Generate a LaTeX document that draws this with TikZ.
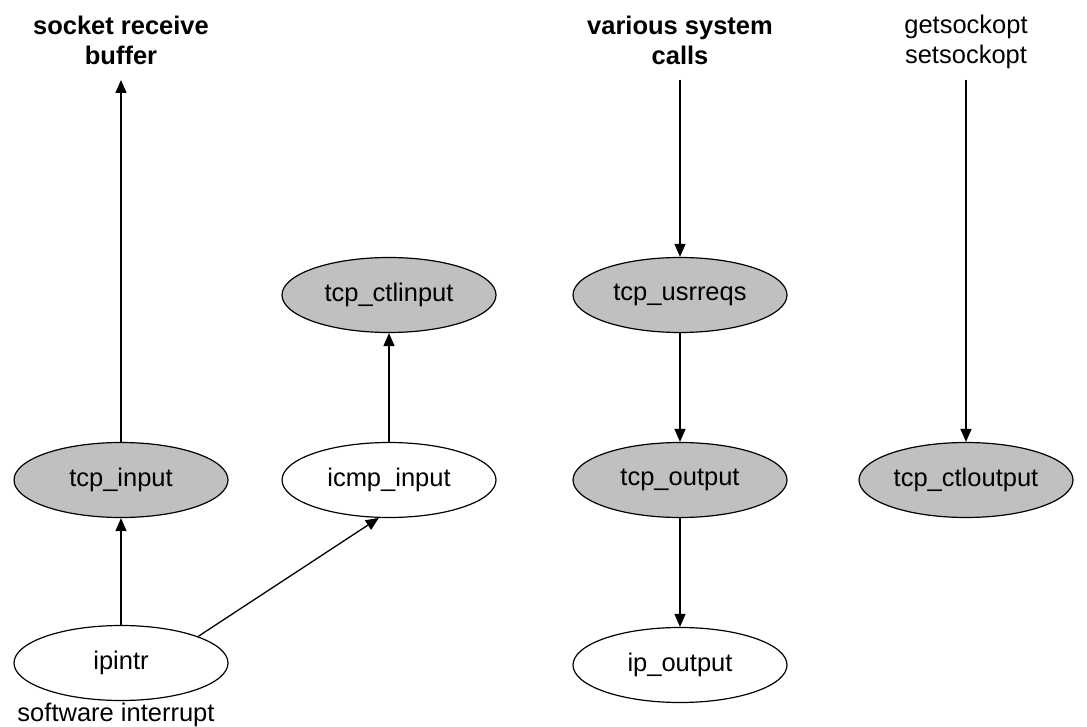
\documentclass[tikz,border=0pt]{standalone}
\usepackage{fontspec}
\setmainfont{Liberation Sans}
\usetikzlibrary{arrows.meta,shapes.geometric}
\definecolor{procgray}{RGB}{192,192,192}
\tikzset{
  proc/.style={ellipse, draw=black, line width=1.2pt, minimum width=214pt,
    minimum height=75pt, inner sep=0pt, font=\fontsize{25.5}{30}\selectfont},
  kernproc/.style={proc, fill=procgray},
  extproc/.style={proc, fill=white},
  toplabel/.style={align=center, inner sep=0pt, anchor=base,
    font=\fontsize{25.5}{30}\selectfont},
  flow/.style={draw=black, line width=1.3pt,
    -{Triangle[length=13pt,width=11pt]}},
}
\begin{document}
\begin{tikzpicture}[x=1pt,y=-1pt]
\useasboundingbox (0,0) rectangle (1087,727);

% labels at the top of the three columns (anchored on the last baseline)
\node[toplabel, font=\fontsize{25.5}{30}\selectfont\bfseries] (sockbuf) at (121,65) {socket receive\\buffer};
\node[toplabel, font=\fontsize{25.5}{30}\selectfont\bfseries] (syscalls) at (680,65) {various system\\calls};
\node[toplabel] (sockopt) at (966,64) {getsockopt\\setsockopt};
\coordinate (sockbufin) at (121,80);
\coordinate (syscallsout) at (680,80);
\coordinate (sockoptout) at (966,80);

% processing routines
\node[kernproc] (ctlinput) at (389,295) {tcp\_ctlinput};
\node[kernproc] (usrreqs) at (680,295) {tcp\_usrreqs};
\node[kernproc] (tcpinput) at (121,480) {tcp\_input};
\node[extproc] (icmpinput) at (389,480) {icmp\_input};
\node[kernproc] (tcpoutput) at (680,480) {tcp\_output};
\node[kernproc] (ctloutput) at (966,480) {tcp\_ctloutput};
\node[extproc] (ipintr) at (121,663) {ipintr};
\node[extproc] (ipoutput) at (680,665) {ip\_output};
\node[toplabel] (swint) at (116,721) {software interrupt};

% control flow
\draw[flow] (tcpinput) -- (sockbufin);
\draw[flow] (ipintr) -- (tcpinput);
\draw[flow] (ipintr.19) -- (icmpinput.255);
\draw[flow] (icmpinput) -- (ctlinput);
\draw[flow] (syscallsout) -- (usrreqs);
\draw[flow] (usrreqs) -- (tcpoutput);
\draw[flow] (tcpoutput) -- (ipoutput);
\draw[flow] (sockoptout) -- (ctloutput);
\end{tikzpicture}
\end{document}
